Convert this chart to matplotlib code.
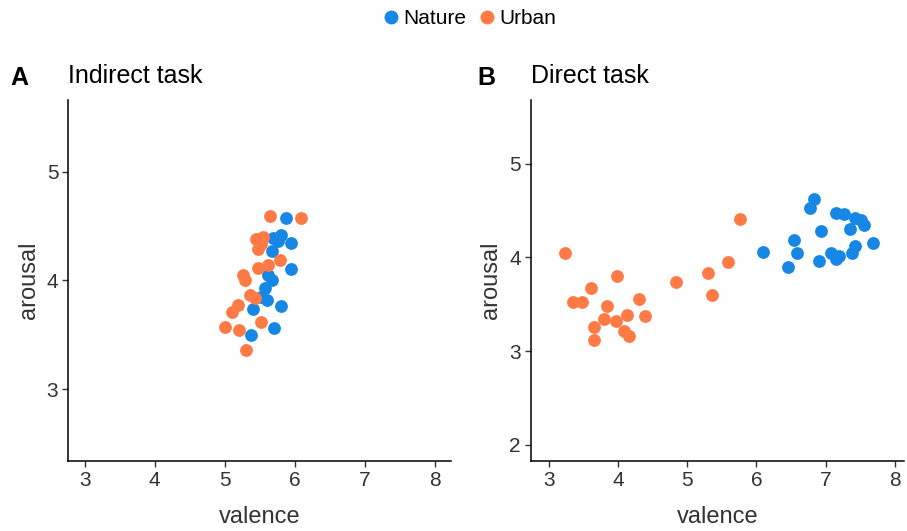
import numpy as np
import matplotlib.pyplot as plt

plt.rcParams['font.family'] = ['Liberation Sans', 'DejaVu Sans']

# indirect task
ind_nat_val = [5.88, 5.81, 5.69, 5.95, 5.67, 5.95, 5.67, 5.57, 5.52, 5.61, 5.40, 5.81, 5.71, 5.38, 5.76, 5.62]
ind_nat_aro = [4.57, 4.42, 4.39, 4.34, 4.27, 4.10, 4.00, 3.93, 3.85, 3.82, 3.74, 3.76, 3.56, 3.50, 4.36, 4.05]
ind_urb_val = [5.64, 6.09, 5.45, 5.52, 5.48, 5.79, 5.62, 5.48, 5.26, 5.29, 5.36, 5.43, 5.19, 5.11, 5.00, 5.21, 5.52, 5.31, 5.55]
ind_urb_aro = [4.59, 4.57, 4.38, 4.33, 4.29, 4.19, 4.14, 4.11, 4.05, 4.00, 3.87, 3.84, 3.77, 3.71, 3.57, 3.54, 3.62, 3.36, 4.40]

# direct task
dir_nat_val = [6.84, 6.77, 7.15, 7.27, 7.42, 7.51, 7.56, 7.35, 6.94, 6.55, 6.58, 6.10, 6.46, 6.91, 7.08, 7.15, 7.42, 7.39, 7.68, 7.20]
dir_nat_aro = [4.62, 4.53, 4.47, 4.46, 4.42, 4.40, 4.35, 4.30, 4.28, 4.19, 4.05, 4.06, 3.90, 3.96, 4.05, 3.98, 4.12, 4.05, 4.15, 4.01]
dir_urb_val = [3.23, 3.98, 3.60, 3.35, 3.47, 4.30, 4.39, 3.84, 3.79, 3.96, 4.13, 4.08, 4.15, 3.65, 3.65, 5.76, 5.59, 5.30, 4.83, 5.36]
dir_urb_aro = [4.05, 3.80, 3.67, 3.52, 3.52, 3.56, 3.38, 3.48, 3.34, 3.32, 3.39, 3.21, 3.16, 3.26, 3.12, 4.41, 3.95, 3.83, 3.74, 3.60]

col_nat = '#1787e6'
col_urb = '#ff7a45'

fig = plt.figure(figsize=(9.07, 5.31), dpi=100)
ax1 = fig.add_axes([0.075, 0.132, 0.422, 0.680])
ax2 = fig.add_axes([0.585, 0.132, 0.412, 0.680])

def style(ax):
    for s in ['top', 'right']:
        ax.spines[s].set_visible(False)
    for s in ['left', 'bottom']:
        ax.spines[s].set_linewidth(1.1)
        ax.spines[s].set_color('black')
    ax.tick_params(length=4, width=1, colors='#333333', labelsize=15, pad=3)
    ax.set_xlabel('valence', fontsize=17, color='#333333', labelpad=12)
    ax.set_ylabel('arousal', fontsize=17, color='#333333', labelpad=5)
    ax.set_xticks([3, 4, 5, 6, 7, 8])

ax1.scatter(ind_nat_val, ind_nat_aro, s=85, color=col_nat, linewidths=0, zorder=3)
ax1.scatter(ind_urb_val, ind_urb_aro, s=85, color=col_urb, linewidths=0, zorder=3)
ax1.set_xlim(2.76, 8.23)
ax1.set_ylim(2.34, 5.66)
ax1.set_yticks([3, 4, 5])
style(ax1)
ax1.set_title('Indirect task', loc='left', fontsize=18, pad=12)

ax2.scatter(dir_nat_val, dir_nat_aro, s=85, color=col_nat, linewidths=0, zorder=3)
ax2.scatter(dir_urb_val, dir_urb_aro, s=85, color=col_urb, linewidths=0, zorder=3)
ax2.set_xlim(2.73, 8.14)
ax2.set_ylim(1.83, 5.68)
ax2.set_yticks([2, 3, 4, 5])
style(ax2)
ax2.set_title('Direct task', loc='left', fontsize=18, pad=12)

fig.text(0.011, 0.84, 'A', fontsize=18, fontweight='bold')
fig.text(0.526, 0.84, 'B', fontsize=18, fontweight='bold')

h1 = plt.Line2D([], [], marker='o', linestyle='', color=col_nat, markersize=9)
h2 = plt.Line2D([], [], marker='o', linestyle='', color=col_urb, markersize=9)
fig.legend([h1, h2], ['Nature', 'Urban'], loc='center', bbox_to_anchor=(0.515, 0.965),
           ncol=2, frameon=False, fontsize=15, handletextpad=0.0, columnspacing=0.4,
           handlelength=1.2)

fig.savefig('out.png', dpi=100)
